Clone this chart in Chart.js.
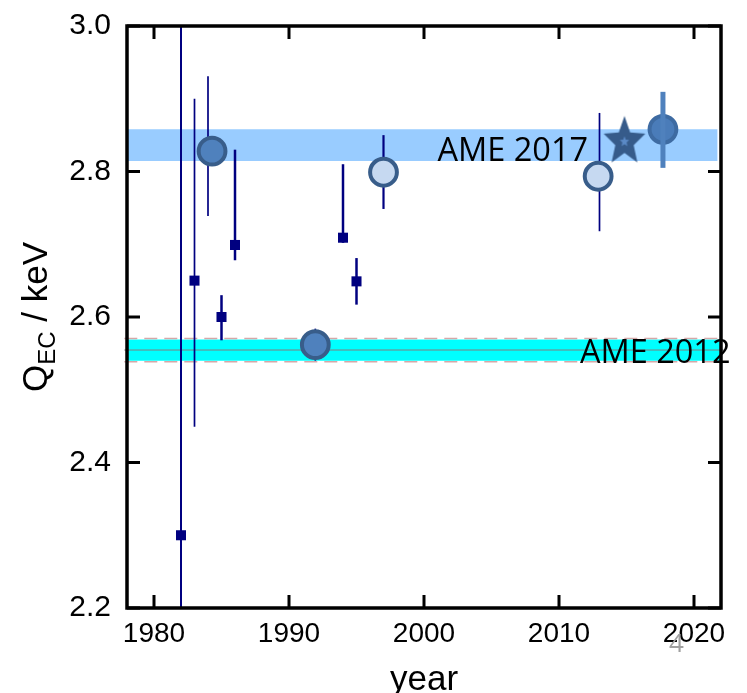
<!DOCTYPE html>
<html><head><meta charset="utf-8">
<style>html,body{margin:0;padding:0;background:#fff;} #wrap{width:747px;height:693px;position:relative;}</style>
<script src="https://cdn.jsdelivr.net/npm/chart.js@4.4.1/dist/chart.umd.min.js"></script>
</head><body><div id="wrap"><canvas id="c" width="747" height="693"></canvas></div>
<script>
// ---- axes ----
const xTicks = [1980, 1990, 2000, 2010, 2020];
const yTicks = [2.2, 2.4, 2.6, 2.8, 3.0];
const xRange = [1978, 2022];
const yRange = [2.2, 3.0];

// ---- older measurements (navy squares) ----
const sqYear  = [1982, 1983, 1985, 1986, 1994, 1995];
const sqQ     = [2.300, 2.650, 2.600, 2.699, 2.709, 2.649];
const sqErrUp = [1.0, 0.250, 0.030, 0.131, 0.101, 0.032];
const sqErrDn = [1.0, 0.201, 0.032, 0.021, 0.007, 0.032];

// ---- circles ----
const circYear    = [1984.3, 1991.95, 1997.0, 2012.9, 2017.7];
const circQ       = [2.828, 2.562, 2.799, 2.7935, 2.858];
const circErrYear = [1984.0, 1991.95, 1997.0, 2013.0, 2017.7];
const circErrUp   = [0.103, 0.022, 0.051, 0.087, 0.0515];
const circErrDn   = [0.089, 0.022, 0.0505, 0.0756, 0.053];
const circKind    = ['dark', 'dark', 'light', 'light', 'current'];

// ---- star ----
const starYear = [2014.85];
const starQ    = [2.841];

// ---- AME bands ----
const ame2017Years  = [1977.8, 2021.75];
const ame2017Range  = [2.8144, 2.858];
const ame2012Years  = [1977.8, 2022.2];
const ame2012Range  = [2.540, 2.569];
const ame2012Dashed = [2.5385, 2.5705];
const ame2012Centre = [2.5546];
const bandLabels    = ['AME 2017', 'AME 2012'];
const bandLabelAt   = [[2001.0, 2.815], [2011.55, 2.5373]];

// ---- styles ----
const NAVY = '#000080';
const sqErrWidth   = [2, 1.7, 2.5, 2.5, 2.5, 2.5];
const circErrWidth = [1.7, 1.7, 2.2, 1.7, 5];
const circErrColor = [NAVY, NAVY, NAVY, NAVY, '#4f81bd'];
const circFill   = {dark: '#4f81bd', light: '#c6d9f1', current: '#4a7cb9'};
const circBorder = {dark: '#385d8a', light: '#385d8a', current: '#3e6ba2'};

function hline(xs, yv) { return xs.map(x => ({x: x, y: yv})); }
function errBar(x, y, up, dn) { return [{x: x, y: y - dn}, {x: x, y: y + up}]; }

// star image
function makeStar() {
  const c = document.createElement('canvas');
  c.width = 60; c.height = 60;
  const g = c.getContext('2d');
  function star(R, ratio, sx, color) {
    g.save();
    g.translate(30, 30);
    g.scale(sx, 1);
    g.beginPath();
    for (let i = 0; i < 10; i++) {
      const r = i % 2 === 0 ? R : R * ratio;
      const a = -Math.PI / 2 + i * Math.PI / 5;
      const px = r * Math.cos(a), py = r * Math.sin(a);
      if (i === 0) g.moveTo(px, py); else g.lineTo(px, py);
    }
    g.closePath();
    g.fillStyle = color;
    g.fill();
    g.restore();
  }
  star(25.8, 0.44, 0.85, '#365b8a');
  star(5.5, 0.45, 0.9, '#5b8ac6');
  return c;
}
const starImg = makeStar();

const datasets = [];
const lineBase = {type: 'line', pointRadius: 0, borderWidth: 0, tension: 0, spanGaps: false, clip: false};

datasets.push(Object.assign({}, lineBase, {
  data: hline(ame2017Years, ame2017Range[1]), fill: {value: ame2017Range[0]},
  backgroundColor: '#99ccff', borderColor: 'rgba(0,0,0,0)', order: 100
}));
datasets.push(Object.assign({}, lineBase, {
  data: hline(ame2012Years, ame2012Range[1]), fill: {value: ame2012Range[0]},
  backgroundColor: '#00ffff', borderColor: 'rgba(0,0,0,0)', order: 99
}));
ame2012Dashed.forEach(v => datasets.push(Object.assign({}, lineBase, {
  data: hline(ame2012Years, v), fill: false, borderWidth: 1.5,
  borderColor: '#d6a8a8', borderDash: [13, 7], order: 98
})));
datasets.push(Object.assign({}, lineBase, {
  data: hline(ame2012Years, ame2012Centre[0]), fill: false, borderWidth: 1,
  borderColor: '#7f7f7f', order: 97
}));

sqYear.forEach((yr, i) => datasets.push(Object.assign({}, lineBase, {
  data: errBar(yr, sqQ[i], sqErrUp[i], sqErrDn[i]), fill: false, clip: 0,
  borderWidth: sqErrWidth[i], borderColor: NAVY, order: 50
})));
circErrYear.forEach((yr, i) => datasets.push(Object.assign({}, lineBase, {
  data: errBar(yr, circQ[i], circErrUp[i], circErrDn[i]), fill: false, clip: 0,
  borderWidth: circErrWidth[i], borderColor: circErrColor[i],
  order: circKind[i] === 'current' ? 20 : 50
})));

datasets.push({
  type: 'scatter', data: sqYear.map((x, i) => ({x: x, y: sqQ[i]})),
  pointStyle: 'rect', pointRadius: 7.1, borderWidth: 0,
  backgroundColor: NAVY, borderColor: NAVY, order: 40
});
datasets.push({
  type: 'scatter', data: circYear.map((x, i) => ({x: x, y: circQ[i]})),
  pointStyle: 'circle', pointRadius: 13.4, borderWidth: 4,
  backgroundColor: circKind.map(k => circFill[k]),
  borderColor: circKind.map(k => circBorder[k]), order: 30
});
datasets.push({
  type: 'scatter', data: starYear.map((x, i) => ({x: x, y: starQ[i]})),
  pointStyle: starImg, pointRadius: 25, order: 10
});

const decor = {
  id: 'decor',
  afterDraw(chart) {
    const {ctx, chartArea: a, scales: {x, y}} = chart;
    ctx.save();
    ctx.strokeStyle = '#000';
    ctx.lineWidth = 3.5;
    ctx.strokeRect(a.left, a.top, a.right - a.left, a.bottom - a.top);
    const tl = 13;
    ctx.lineWidth = 3;
    ctx.beginPath();
    xTicks.forEach(v => {
      const px = x.getPixelForValue(v);
      ctx.moveTo(px, a.bottom); ctx.lineTo(px, a.bottom - tl);
      ctx.moveTo(px, a.top); ctx.lineTo(px, a.top + tl);
    });
    yTicks.forEach(v => {
      const py = y.getPixelForValue(v);
      ctx.moveTo(a.left, py); ctx.lineTo(a.left + tl, py);
      ctx.moveTo(a.right, py); ctx.lineTo(a.right - tl, py);
    });
    ctx.stroke();

    // band labels
    ctx.fillStyle = '#000';
    ctx.textAlign = 'left';
    ctx.textBaseline = 'alphabetic';
    ctx.font = '32.5px "Open Sans"';
    bandLabels.forEach((t, i) => {
      ctx.fillText(t, x.getPixelForValue(bandLabelAt[i][0]), y.getPixelForValue(bandLabelAt[i][1]));
    });

    // x title
    ctx.font = '35px "Liberation Sans"';
    ctx.textAlign = 'center';
    ctx.fillText('year', (a.left + a.right) / 2, 690);

    // y title with subscript
    const mainF = '35px "Liberation Sans"', subF = '24px "Liberation Sans"';
    ctx.font = mainF; const wQ = ctx.measureText('Q').width; const wRest = ctx.measureText(' / keV').width;
    ctx.font = subF; const wSub = ctx.measureText('EC').width;
    const total = wQ + wSub + wRest;
    const cy = (a.top + a.bottom) / 2;
    ctx.translate(46.5, cy);
    ctx.rotate(-Math.PI / 2);
    ctx.textAlign = 'left';
    let u = -total / 2;
    ctx.font = mainF; ctx.fillText('Q', u, 0); u += wQ;
    ctx.font = subF; ctx.fillText('EC', u, 8); u += wSub;
    ctx.font = mainF; ctx.fillText(' / keV', u, 0);
    ctx.restore();

    // slide page number
    ctx.save();
    ctx.fillStyle = '#a0a0a0';
    ctx.font = '26px "Open Sans"';
    ctx.textAlign = 'left';
    ctx.fillText('4', 669, 652);
    ctx.restore();
  }
};

new Chart(document.getElementById('c'), {
  type: 'scatter',
  data: {datasets: datasets},
  options: {
    responsive: false, animation: false, devicePixelRatio: 1, events: [],
    layout: {padding: {left: 0, top: 22, right: 24, bottom: 0}},
    plugins: {legend: {display: false}, tooltip: {enabled: false}},
    scales: {
      x: {
        type: 'linear', min: xRange[0], max: xRange[1],
        afterBuildTicks: s => { s.ticks = xTicks.map(v => ({value: v})); },
        afterFit: s => { s.height = 85; s.paddingLeft = 0; s.paddingRight = 0; },
        grid: {display: false, drawTicks: false}, border: {display: false},
        ticks: {font: {family: 'Liberation Sans', size: 28}, color: '#000', padding: 9, maxRotation: 0,
                callback: v => String(v)}
      },
      y: {
        type: 'linear', min: yRange[0], max: yRange[1],
        afterBuildTicks: s => { s.ticks = yTicks.map(v => ({value: v})); },
        afterFit: s => { s.width = 127; s.paddingTop = 0; s.paddingBottom = 0; },
        grid: {display: false, drawTicks: false}, border: {display: false},
        ticks: {font: {family: 'Liberation Sans', size: 30}, color: '#000', padding: 16,
                callback: v => Number(v).toFixed(1)}
      }
    }
  },
  plugins: [decor]
});
</script>
</body></html>
